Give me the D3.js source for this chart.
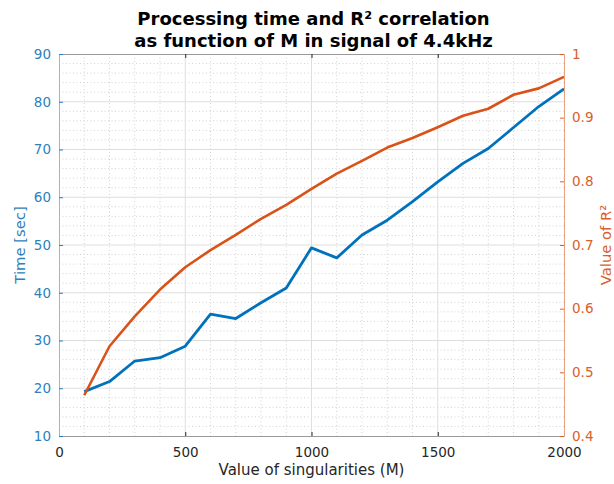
<!DOCTYPE html>
<html>
<head>
<meta charset="utf-8">
<script src="https://cdn.jsdelivr.net/npm/d3@7"></script>
<style>
  html, body { margin: 0; padding: 0; background: #fff; }
  svg { display: block; font-family: "DejaVu Sans", sans-serif; }
</style>
</head>
<body>
<svg id="chart" width="614" height="484"></svg>
<script>
// Number of singularities M
const mValues = [100, 200, 300, 400, 500, 600, 700, 800, 900, 1000,
                 1100, 1200, 1300, 1400, 1500, 1600, 1700, 1800, 1900, 2000];
// Processing time in seconds (left axis)
const timeSec = [19.3, 21.4, 25.7, 26.4, 28.8, 35.5, 34.6, 37.9, 41.0, 49.4,
                 47.3, 52.1, 55.2, 59.1, 63.2, 67.1, 70.2, 74.6, 79.0, 82.7];
// R² correlation (right axis)
const r2Values = [0.464, 0.541, 0.588, 0.630, 0.665, 0.692, 0.716, 0.741, 0.763, 0.788,
                  0.812, 0.832, 0.853, 0.868, 0.885, 0.903, 0.914, 0.936, 0.946, 0.964];

const xTicks = [0, 500, 1000, 1500, 2000];
const leftTicks = [10, 20, 30, 40, 50, 60, 70, 80, 90];
const rightTicks = [0.4, 0.5, 0.6, 0.7, 0.8, 0.9, 1];

const titleLines = ["Processing time and R\u00B2 correlation", "as function of M in signal of 4.4kHz"];

const blue = "#0072BD", orange = "#D95319";
const plot = { left: 59, right: 564, top: 54, bottom: 436 };

const svg = d3.select("#chart");

const x = d3.scaleLinear().domain([0, 2000]).range([plot.left, plot.right]);
const yL = d3.scaleLinear().domain([10, 90]).range([plot.bottom, plot.top]);
const yR = d3.scaleLinear().domain([0.4, 1]).range([plot.bottom, plot.top]);

// Grid: minor dotted lines, then major solid lines
const grid = svg.append("g");
const xMinor = d3.range(100, 2000, 100).filter(v => v % 500 !== 0);
const yMinor = d3.range(12, 90, 2).filter(v => v % 10 !== 0);
grid.selectAll(".xm").data(xMinor).join("line")
  .attr("x1", d => x(d)).attr("x2", d => x(d))
  .attr("y1", plot.top).attr("y2", plot.bottom)
  .attr("stroke", "#d2d2d2").attr("stroke-width", 1).attr("stroke-dasharray", "1,2.5");
grid.selectAll(".ym").data(yMinor).join("line")
  .attr("x1", plot.left).attr("x2", plot.right)
  .attr("y1", d => yL(d)).attr("y2", d => yL(d))
  .attr("stroke", "#d2d2d2").attr("stroke-width", 1).attr("stroke-dasharray", "1,2.5");
grid.selectAll(".xM").data(xTicks.slice(1, -1)).join("line")
  .attr("x1", d => x(d)).attr("x2", d => x(d))
  .attr("y1", plot.top).attr("y2", plot.bottom)
  .attr("stroke", "#dedede").attr("stroke-width", 1);
grid.selectAll(".yM").data(leftTicks.slice(1, -1)).join("line")
  .attr("x1", plot.left).attr("x2", plot.right)
  .attr("y1", d => yL(d)).attr("y2", d => yL(d))
  .attr("stroke", "#dedede").attr("stroke-width", 1);

// Data lines
const lineT = d3.line().x((d, i) => x(mValues[i])).y(d => yL(d));
const lineR = d3.line().x((d, i) => x(mValues[i])).y(d => yR(d));
svg.append("path").datum(timeSec).attr("d", lineT)
  .attr("fill", "none").attr("stroke", blue).attr("stroke-width", 2.8)
  .attr("stroke-linejoin", "round");
svg.append("path").datum(r2Values).attr("d", lineR)
  .attr("fill", "none").attr("stroke", orange).attr("stroke-width", 2.6)
  .attr("stroke-linejoin", "round");

// Axes with inward ticks
const tickFont = 13.5;
function styleAxis(g, color, lineColor) {
  g.selectAll("text").attr("fill", color).style("font-size", tickFont + "px")
    .style("font-family", "DejaVu Sans, sans-serif");
  g.selectAll(".tick line").attr("stroke", color);
  g.select(".domain").attr("stroke", lineColor);
}

const axB = svg.append("g").attr("transform", `translate(0,${plot.bottom})`)
  .call(d3.axisBottom(x).tickValues(xTicks).tickFormat(d3.format("d"))
    .tickSizeInner(-4).tickSizeOuter(0).tickPadding(11));
styleAxis(axB, "#262626", "#9a9a9a");
axB.selectAll(".tick line").filter(d => d === 0 || d === 2000).remove();

const axT = svg.append("g").attr("transform", `translate(0,${plot.top})`)
  .call(d3.axisTop(x).tickValues(xTicks).tickFormat("").tickSizeInner(-4).tickSizeOuter(0));
styleAxis(axT, "#262626", "#9a9a9a");
axT.selectAll(".tick line").filter(d => d === 0 || d === 2000).remove();

const axL = svg.append("g").attr("transform", `translate(${plot.left},0)`)
  .call(d3.axisLeft(yL).tickValues(leftTicks).tickFormat(d3.format("d"))
    .tickSizeInner(-4).tickSizeOuter(0).tickPadding(8));
styleAxis(axL, "#2f7fbd", "#8dbbe0");

const axR = svg.append("g").attr("transform", `translate(${plot.right},0)`)
  .call(d3.axisRight(yR).tickValues(rightTicks).tickFormat(d => d === 1 ? "1" : d3.format(".1f")(d))
    .tickSizeInner(-4).tickSizeOuter(0).tickPadding(8));
styleAxis(axR, "#d8602c", "#e8a27f");

// Axis titles
svg.append("text").attr("x", (plot.left + plot.right) / 2).attr("y", 475)
  .attr("text-anchor", "middle").attr("fill", "#262626")
  .style("font-size", "15px").text("Value of singularities (M)");
svg.append("text").attr("transform", `translate(25,${(plot.top + plot.bottom) / 2}) rotate(-90)`)
  .attr("text-anchor", "middle").attr("fill", "#2f7fbd")
  .style("font-size", "14.8px").text("Time [sec]");
svg.append("text").attr("transform", `translate(611,${(plot.top + plot.bottom) / 2}) rotate(-90)`)
  .attr("text-anchor", "middle").attr("fill", "#d8602c")
  .style("font-size", "14.8px").text("Value of R\u00B2");

// Title
svg.append("g").selectAll("text").data(titleLines).join("text")
  .attr("x", (plot.left + plot.right) / 2 + 2).attr("y", (d, i) => 25 + i * 22)
  .attr("text-anchor", "middle").attr("fill", "#000")
  .style("font-size", "18px").style("font-weight", "bold").text(d => d);
</script>
</body>
</html>
